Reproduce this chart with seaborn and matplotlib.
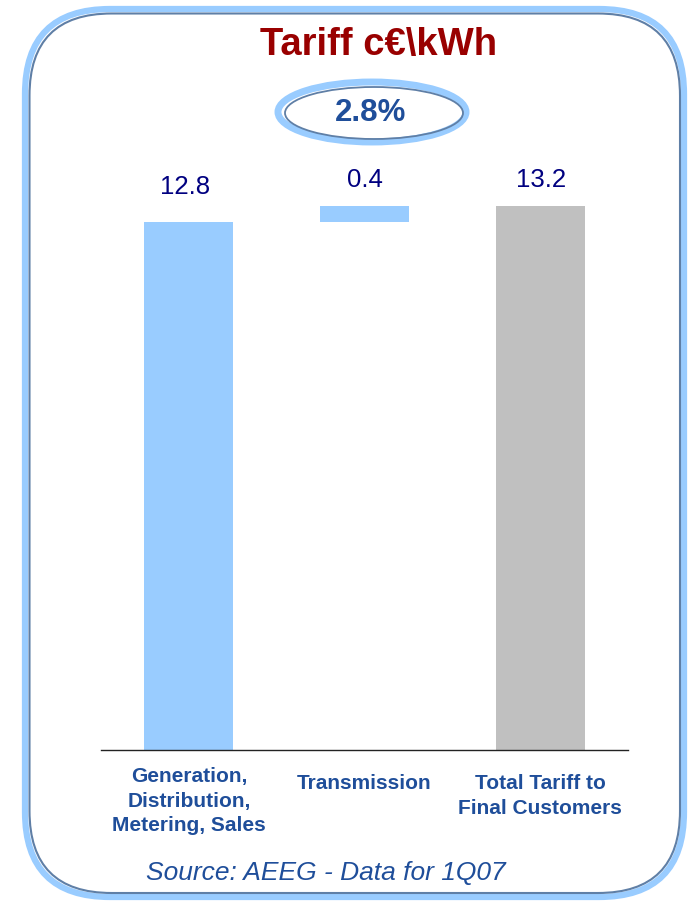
import matplotlib
matplotlib.use("Agg")
import matplotlib.pyplot as plt
import seaborn as sns
import pandas as pd
from matplotlib.patches import FancyBboxPatch, Ellipse

categories = ["Generation,\nDistribution,\nMetering, Sales", "Transmission", "Total Tariff to\nFinal Customers"]
values = [12.8, 0.4, 13.2]
bases = [0.0, 12.8, 0.0]
labels = ["12.8", "0.4", "13.2"]
bar_colors = ["#99CCFF", "#99CCFF", "#C0C0C0"]
title = "Tariff c€\\kWh"
change = "2.8%"
source = "Source: AEEG - Data for 1Q07"

sns.set_theme(style="white")
plt.rcParams['font.family'] = ['Liberation Sans', 'DejaVu Sans']

W, H = 688, 903
fig = plt.figure(figsize=(W/100, H/100), dpi=100)

def fx(px):
    return px / W
def fy(py):
    return 1 - py / H

# axes: x 101..628, y baseline 751, top ~ 160
ax = fig.add_axes([fx(101), fy(751), fx(628) - fx(101), fy(160) - fy(751)])
df = pd.DataFrame({"cat": categories, "val": values, "base": bases})
sns.barplot(data=df, x="cat", y="val", color=bar_colors[0], order=categories,
            width=0.505, bottom=df["base"].values, ax=ax, saturation=1, linewidth=0,
            errorbar=None)
for p, c in zip(ax.patches, bar_colors):
    p.set_facecolor(c)
ax.set_xlim(-0.5, 2.5)
ax.set_ylim(0, (751 - 160) / (544 / 13.2))
ax.set_xlabel("")
ax.set_ylabel("")
ax.set_yticks([])
ax.set_xticks([])
for s in ["top", "left", "right"]:
    ax.spines[s].set_visible(False)
ax.spines["bottom"].set_color("#222222")
ax.spines["bottom"].set_linewidth(1.0)
ax.patch.set_alpha(0)

# value labels
label_y = [187, 180, 180]
label_x = [185, 365, 541]
for lx, ly, t in zip(label_x, label_y, labels):
    fig.text(fx(lx), fy(ly), t, ha="center", va="center", fontsize=18.5, color="#000080")

# category labels
cat_top = [767, 774, 774]
for i, c in enumerate(categories):
    xc = ax.transData.transform((i, 0))[0] / W
    fig.text(xc, fy(cat_top[i]), c, ha="center", va="top", fontsize=15, fontweight="bold",
             color="#1F4E9A", linespacing=1.38)

# title
fig.text(fx(379), fy(45), title, ha="center", va="center", fontsize=27.5, fontweight="bold",
         color="#990000")

# ellipse with 2.8%
e1 = Ellipse((fx(372), fy(113)), fx(188), 60 / H, transform=fig.transFigure,
             fill=False, edgecolor="#99CCFF", linewidth=5)
e2 = Ellipse((fx(374), fy(114)), fx(178), 52 / H, transform=fig.transFigure,
             fill=False, edgecolor="#5F7FA6", linewidth=1.3)
fig.add_artist(e1)
fig.add_artist(e2)
fig.text(fx(371), fy(113), change, ha="center", va="center", fontsize=22.5, fontweight="bold",
         color="#1F4E9A")

# source
fig.text(fx(326), fy(873), source, ha="center", va="center", fontsize=19, style="italic",
         color="#1F4E9A")

# rounded frame
outer = FancyBboxPatch((25 / 100, (H - 898) / 100), (684 - 25) / 100, (898 - 10) / 100,
                       boxstyle="round,pad=0,rounding_size=0.85", transform=fig.dpi_scale_trans,
                       fill=False, edgecolor="#99CCFF", linewidth=4.5)
inner = FancyBboxPatch((29.5 / 100, (H - 894) / 100), (680 - 29.5) / 100, (894 - 14.5) / 100,
                       boxstyle="round,pad=0,rounding_size=0.82", transform=fig.dpi_scale_trans,
                       fill=False, edgecolor="#5F7FA6", linewidth=1.5)
fig.add_artist(outer)
fig.add_artist(inner)

fig.savefig("out.png", dpi=100)
